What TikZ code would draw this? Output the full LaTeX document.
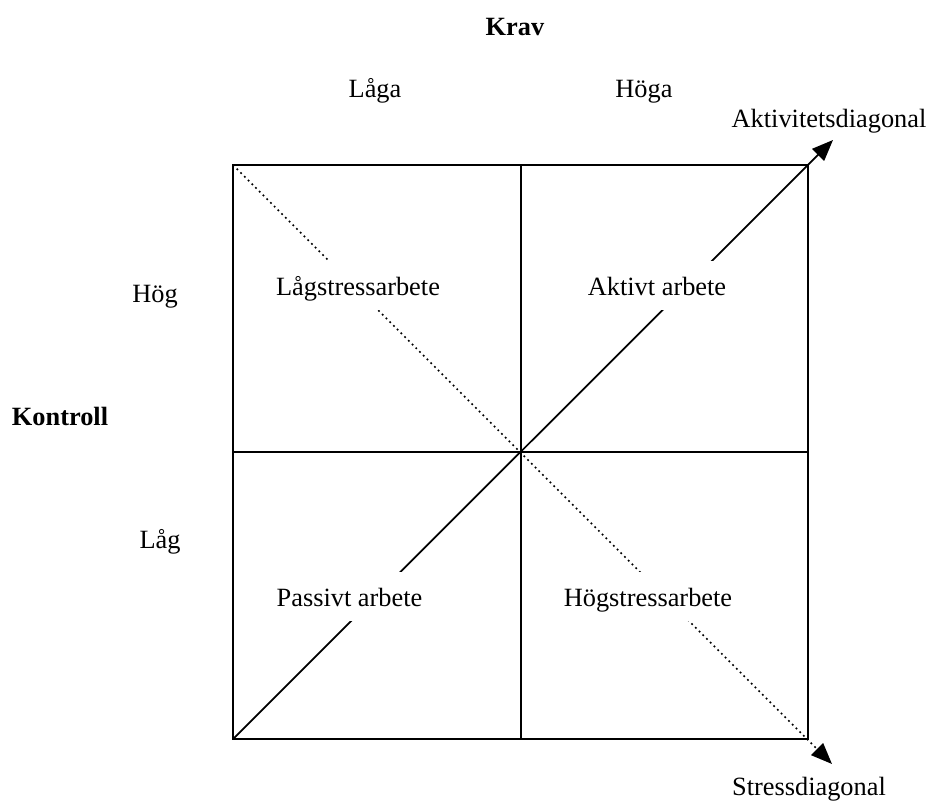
\documentclass[tikz,border=0pt]{standalone}
\usepackage{fontspec}
\setmainfont{Liberation Serif}
\usetikzlibrary{arrows.meta}
\tikzset{
    word/.style={inner sep=0pt, anchor=base, font=\fontsize{15}{18}\selectfont},
    head/.style={word, font=\fontsize{15}{18}\selectfont\bfseries},
    cell/.style={word, fill=white, text height=19.5pt, text depth=8.5pt},
    frame/.style={line width=1pt},
    arrow/.style={line width=1pt, -{Triangle[length=12pt, width=9.5pt]}},
    dotarrow/.style={arrow, line width=1pt, dotted}
}

\begin{document}
\begin{tikzpicture}[x=0.02cm, y=-0.02cm]
\useasboundingbox (0,0) rectangle (930,801);
% corners of the square
\coordinate (tl) at (233,165);
\coordinate (tr) at (808,165);
\coordinate (bl) at (233,739);
\coordinate (br) at (808,739);
\coordinate (mt) at (521,165);
\coordinate (mb) at (521,739);
\coordinate (ml) at (233,452);
\coordinate (mr) at (808,452);
\coordinate (atip) at (833,140);
\coordinate (stip) at (832,764);
% square and diagonals
\draw[frame] (tl) rectangle (br);
\draw[frame] (mt) -- (mb);
\draw[frame] (ml) -- (mr);
\draw[arrow] (bl) -- (atip);
\draw[dotarrow] (tl) -- (stip);
% cells
\node[cell] (lowstress) at (358,295) {Lågstressarbete};
\node[cell] (active) at (657,295) {Aktivt arbete};
\node[cell] (passive) at (349.5,606) {Passivt arbete};
\node[cell] (highstress) at (648,606) {Högstressarbete};
% axes
\node[head] (krav) at (515,35) {Krav};
\node[word] (lowdem) at (375,97) {Låga};
\node[word] (highdem) at (644,97) {Höga};
\node[head] (kontroll) at (60,425) {Kontroll};
\node[word] (highctl) at (155,302) {Hög};
\node[word] (lowctl) at (160,548) {Låg};
\node[word] (actdiag) at (829,127) {Aktivitetsdiagonal};
\node[word] (strdiag) at (809,795) {Stressdiagonal};
\end{tikzpicture}
\end{document}
